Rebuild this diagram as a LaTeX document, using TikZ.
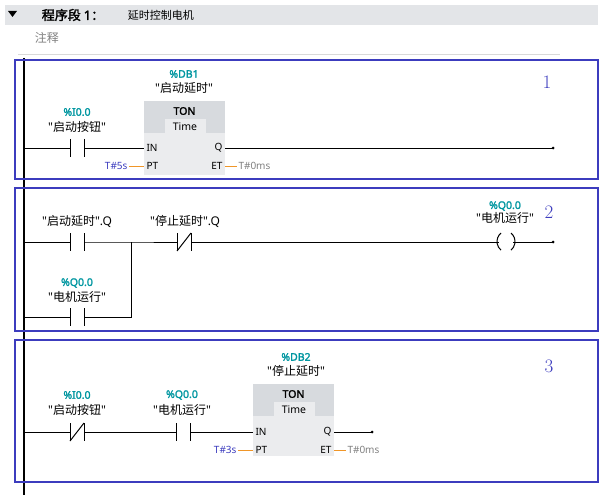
\documentclass[tikz,border=0pt]{standalone}
\usepackage{fontspec}
\setmainfont{Noto Sans CJK SC}[AutoFakeBold=2]
\newfontfamily\numfont{Latin Modern Roman}
\newfontfamily\lat{Noto Sans}[AutoFakeBold=2]
\newcommand{\qt}[1]{{\lat"}#1{\lat"}}
\usetikzlibrary{positioning}
\definecolor{tiateal}{RGB}{0,150,160}
\definecolor{tiablue}{RGB}{60,60,190}
\definecolor{tiaorange}{RGB}{240,150,40}
\definecolor{tiagray}{RGB}{215,218,222}
\begin{document}
\begin{tikzpicture}
[x=1pt, y=-1pt, line width=1pt,
every node/.style={font=\fontsize{12}{13}\selectfont},
addr/.style={text=tiateal, font=\lat\bfseries\fontsize{10.5}{11}\selectfont},
contact/.style={minimum width=13pt, minimum height=17pt, inner sep=0pt},
pin/.style={font=\lat\fontsize{10}{11}\selectfont, inner sep=1pt},
rung/.style={draw=tiablue, line width=1.5pt},
rungno/.style={text=tiablue, font=\numfont\fontsize{19}{19}\selectfont}
]
  \useasboundingbox (0,0) rectangle (602,500);
  % header
  \fill[tiagray!70] (5,5) rectangle (598,25);
  \fill (8,11) -- (17,11) -- (12.5,17) -- cycle;
  \node[anchor=west, font=\bfseries\fontsize{13}{14}\selectfont] (title) at (38,15) {程序段 {\lat 1}：};
  \node[anchor=west, font=\fontsize{11}{12}\selectfont] (tname) at (124,15) {延时控制电机};
  \node[anchor=west, text=gray] (cmt) at (31,38) {注释};
  \draw[gray!30, line width=0.6pt] (18,54) -- (560,54);
  \draw[line width=1.5pt] (24,58) -- (24,495);
  % rung frames
  \draw[rung] (15,60) rectangle (598,179);
  \draw[rung] (15,188) rectangle (598,331);
  \draw[rung] (15,340) rectangle (598,482);
  \node[rungno] (n1) at (547,82) {1};
  \node[rungno] (n2) at (549,212) {2};
  \node[rungno] (n3) at (549,366) {3};

  % rung 1
  \node[contact] (c1) at (77,148) {};
  \node[addr] at (77,112) {\%I0.0};
  \node at (77,127) {\qt{启动按钮}};
  \fill[tiagray] (144,101) rectangle (225,133);
  \fill[tiagray!50] (144,133) rectangle (225,175);
  \fill[tiagray!50] (165,119) rectangle (206,134);
  \node[font=\lat\bfseries\fontsize{10.5}{11}\selectfont] at (184.5,111) {TON};
  \node[font=\lat\fontsize{10.5}{11}\selectfont] at (185,127) {Time};
  \node[addr] at (184,74) {\%DB1};
  \node at (184,88) {\qt{启动延时}};
  \node[pin, anchor=west] (in1) at (145,148) {IN};
  \node[pin, anchor=west] (pt1) at (145,166) {PT};
  \node[pin, anchor=east] (q1) at (224,148) {Q};
  \node[pin, anchor=east] (et1) at (224,166) {ET};
  \coordinate (e1) at (553,148);
  \node[pin, text=tiablue, anchor=east] (v1) at (129,166) {T\#5s};
  \node[pin, text=gray, anchor=west] (o1) at (237,166) {T\#0ms};

  % rung 2
  \node[contact] (c2) at (77,242) {};
  \node at (77,221) {\qt{启动延时}{\lat.Q}};
  \node[contact] (c3) at (77,317) {};
  \node[addr] at (77,283) {\%Q0.0};
  \node at (77,297) {\qt{电机运行}};
  \coordinate (j2) at (131,242);
  \coordinate (j3) at (131,317);
  \node[contact] (c4) at (184,242) {};
  \node at (185,221) {\qt{停止延时}{\lat.Q}};
  \node[contact] (k1) at (506,242) {};
  \node[addr] at (505,206) {\%Q0.0};
  \node at (505,218) {\qt{电机运行}};
  \coordinate (e2) at (553,242);

  % rung 3
  \node[contact] (c5) at (77,432) {};
  \node[addr] at (77,395) {\%I0.0};
  \node at (77,410) {\qt{启动按钮}};
  \node[contact] (c6) at (183,432) {};
  \node[addr] at (182,395) {\%Q0.0};
  \node at (182,410) {\qt{电机运行}};
  \fill[tiagray] (253,384) rectangle (334,416);
  \fill[tiagray!50] (253,416) rectangle (334,456);
  \fill[tiagray!50] (274,402) rectangle (315,417);
  \node[font=\lat\bfseries\fontsize{10.5}{11}\selectfont] at (293.5,394) {TON};
  \node[font=\lat\fontsize{10.5}{11}\selectfont] at (294,410) {Time};
  \node[addr] at (296,357) {\%DB2};
  \node at (296,371) {\qt{停止延时}};
  \node[pin, anchor=west] (in2) at (254,432) {IN};
  \node[pin, anchor=west] (pt2) at (254,450) {PT};
  \node[pin, anchor=east] (q2) at (333,432) {Q};
  \node[pin, anchor=east] (et2) at (333,450) {ET};
  \coordinate (e3) at (372,432);
  \node[pin, text=tiablue, anchor=east] (v2) at (238,450) {T\#3s};
  \node[pin, text=gray, anchor=west] (o2) at (346,450) {T\#0ms};

  % contact bars
  \foreach \c in {c1,c2,c3,c4,c5,c6}
    \draw (\c.north west) -- (\c.south west) (\c.north east) -- (\c.south east);
  \foreach \c in {c4,c5}
    \draw (\c.south west) -- (\c.north east);
  % coil
  \draw (k1.north west) ++(2,0) arc[start angle=130, end angle=230, radius=11.2pt];
  \draw (k1.north east) ++(-2,0) arc[start angle=50, end angle=-50, radius=11.2pt];

  % wires
  \draw (24,148) -- (c1.west) (c1.east) -- (in1.west -| 144,0);
  \draw (q1.east -| 225,0) -- (e1);
  \draw (24,242) -- (c2.west) (c2.east) -- (j2) -- (c4.west) (c4.east) -- (k1.west);
  \draw (k1.east) -- (e2);
  \draw (24,317) -- (c3.west) (c3.east) -- (j3) -- (j2);
  \draw (24,432) -- (c5.west) (c5.east) -- (c6.west) (c6.east) -- (in2.west -| 253,0);
  \draw (q2.east -| 334,0) -- (e3);
  \fill (e1) circle (1.5pt) (e2) circle (1.5pt) (e3) circle (1.5pt);
  \draw[tiaorange] (v1.east) -- (pt1.west -| 144,0) (et1.east -| 225,0) -- (o1.west);
  \draw[tiaorange] (v2.east) -- (pt2.west -| 253,0) (et2.east -| 334,0) -- (o2.west);
\end{tikzpicture}
\end{document}
